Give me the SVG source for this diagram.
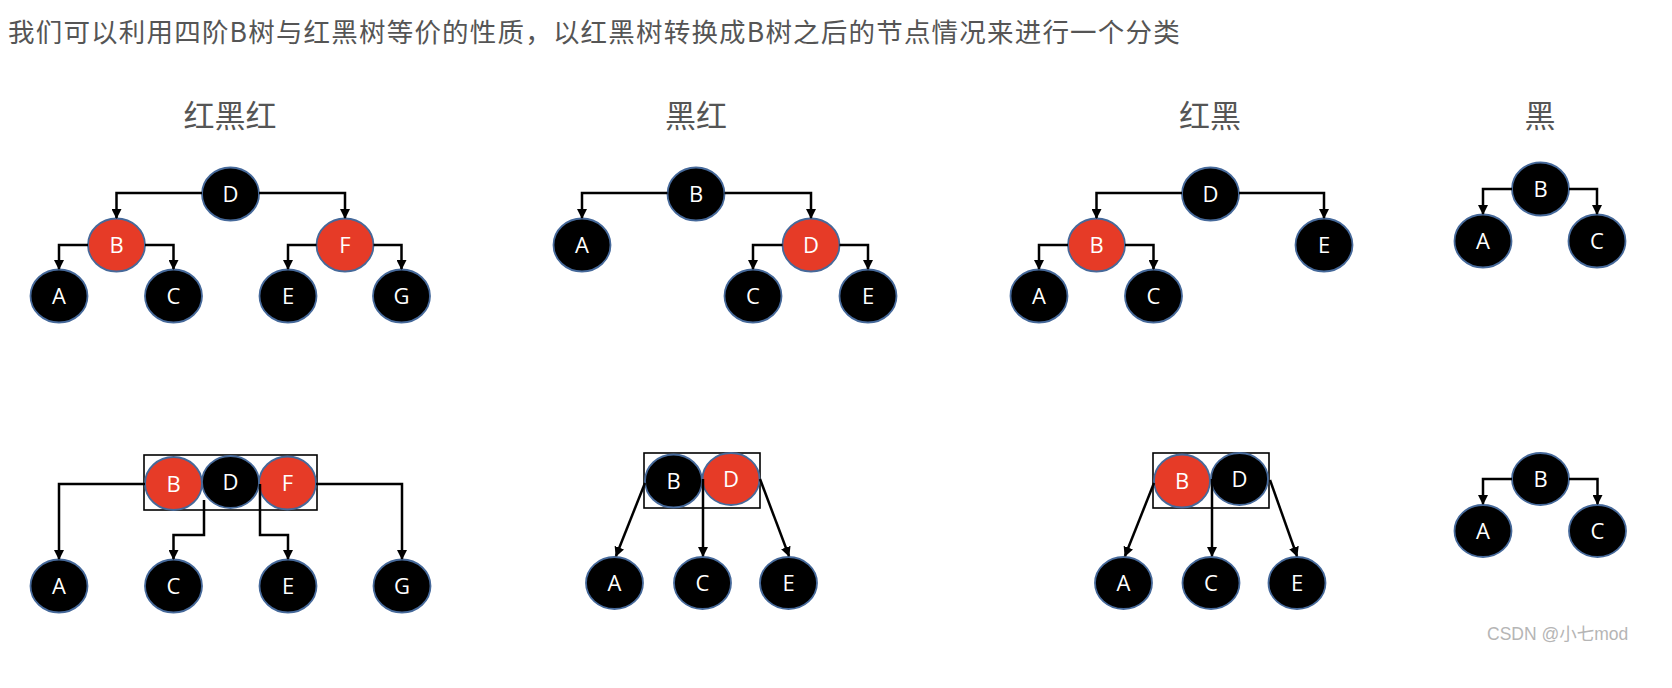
<svg xmlns="http://www.w3.org/2000/svg" width="1672" height="688" viewBox="0 0 1672 688">
<defs>
<marker id="arr" markerUnits="userSpaceOnUse" markerWidth="10" markerHeight="10" refX="9" refY="5" orient="auto">
<path d="M0,0 L10,5 L0,10 z" fill="#000"/>
</marker>
<style>
.bk{fill:#000;stroke:#46699a;stroke-width:1.8}
.rd{fill:#e63b27;stroke:#46699a;stroke-width:1.8}
.lb{font-family:"Open Sans","Noto Sans",sans-serif;font-size:22px;fill:#fff;text-anchor:middle}
.cn{fill:none;stroke:#000;stroke-width:2.5;marker-end:url(#arr)}
.hd{font-family:"Noto Sans CJK SC",sans-serif;fill:#555}
.box{fill:none;stroke:#000;stroke-width:1.6}
</style>
</defs>
<rect width="1672" height="688" fill="#fff"/>
<text class="hd" x="8" y="42" font-size="26.5" letter-spacing="1.2" fill="#4d4d4d">我们可以利用四阶B树与红黑树等价的性质，以红黑树转换成B树之后的节点情况来进行一个分类</text>
<g class="hd" font-size="31" text-anchor="middle">
<text x="230" y="127">红黑红</text>
<text x="696" y="127">黑红</text>
<text x="1210" y="127">红黑</text>
<text x="1540" y="127">黑</text>
</g>

<!-- Top tree 1 -->
<g id="t1-D"><ellipse class="bk" cx="230.5" cy="194" rx="28.5" ry="26.5"/><text class="lb" x="230.5" y="202">D</text></g>
<g id="t1-B"><ellipse class="rd" cx="116.5" cy="245" rx="28.5" ry="26.5"/><text class="lb" x="116.5" y="253">B</text></g>
<g id="t1-F"><ellipse class="rd" cx="345" cy="245" rx="28.5" ry="26.5"/><text class="lb" x="345" y="253">F</text></g>
<g id="t1-A"><ellipse class="bk" cx="59" cy="296" rx="28.5" ry="26.5"/><text class="lb" x="59" y="304">A</text></g>
<g id="t1-C"><ellipse class="bk" cx="173.5" cy="296" rx="28.5" ry="26.5"/><text class="lb" x="173.5" y="304">C</text></g>
<g id="t1-E"><ellipse class="bk" cx="288" cy="296" rx="28.5" ry="26.5"/><text class="lb" x="288" y="304">E</text></g>
<g id="t1-G"><ellipse class="bk" cx="401.5" cy="296" rx="28.5" ry="26.5"/><text class="lb" x="401.5" y="304">G</text></g>

<!-- Top tree 2 -->
<g id="t2-B"><ellipse class="bk" cx="696" cy="194" rx="28.5" ry="26.5"/><text class="lb" x="696" y="202">B</text></g>
<g id="t2-A"><ellipse class="bk" cx="582" cy="245" rx="28.5" ry="26.5"/><text class="lb" x="582" y="253">A</text></g>
<g id="t2-D"><ellipse class="rd" cx="811" cy="245" rx="28.5" ry="26.5"/><text class="lb" x="811" y="253">D</text></g>
<g id="t2-C"><ellipse class="bk" cx="753" cy="296" rx="28.5" ry="26.5"/><text class="lb" x="753" y="304">C</text></g>
<g id="t2-E"><ellipse class="bk" cx="868" cy="296" rx="28.5" ry="26.5"/><text class="lb" x="868" y="304">E</text></g>

<!-- Top tree 3 -->
<g id="t3-D"><ellipse class="bk" cx="1210.5" cy="194" rx="28.5" ry="26.5"/><text class="lb" x="1210.5" y="202">D</text></g>
<g id="t3-B"><ellipse class="rd" cx="1096.5" cy="245" rx="28.5" ry="26.5"/><text class="lb" x="1096.5" y="253">B</text></g>
<g id="t3-E"><ellipse class="bk" cx="1324" cy="245" rx="28.5" ry="26.5"/><text class="lb" x="1324" y="253">E</text></g>
<g id="t3-A"><ellipse class="bk" cx="1039" cy="296" rx="28.5" ry="26.5"/><text class="lb" x="1039" y="304">A</text></g>
<g id="t3-C"><ellipse class="bk" cx="1153.5" cy="296" rx="28.5" ry="26.5"/><text class="lb" x="1153.5" y="304">C</text></g>

<!-- Top tree 4 -->
<g id="t4-B"><ellipse class="bk" cx="1540.5" cy="189" rx="28.5" ry="26.5"/><text class="lb" x="1540.5" y="197">B</text></g>
<g id="t4-A"><ellipse class="bk" cx="1483" cy="241" rx="28.5" ry="26.5"/><text class="lb" x="1483" y="249">A</text></g>
<g id="t4-C"><ellipse class="bk" cx="1597" cy="241" rx="28.5" ry="26.5"/><text class="lb" x="1597" y="249">C</text></g>

<!-- Bottom tree 1 -->
<g id="b1-node">
<rect class="box" x="144" y="455" width="173" height="55"/>
<ellipse class="rd" cx="173.5" cy="483.5" rx="28.5" ry="26.5"/><text class="lb" x="173.5" y="491.5">B</text>
<ellipse class="bk" cx="230.5" cy="482" rx="28.5" ry="26"/><text class="lb" x="230.5" y="490">D</text>
<ellipse class="rd" cx="287.5" cy="483" rx="28.5" ry="26.5"/><text class="lb" x="287.5" y="491">F</text>
</g>
<g id="b1-A"><ellipse class="bk" cx="59" cy="586" rx="28.5" ry="26.5"/><text class="lb" x="59" y="594">A</text></g>
<g id="b1-C"><ellipse class="bk" cx="173.5" cy="586" rx="28.5" ry="26.5"/><text class="lb" x="173.5" y="594">C</text></g>
<g id="b1-E"><ellipse class="bk" cx="288" cy="586" rx="28.5" ry="26.5"/><text class="lb" x="288" y="594">E</text></g>
<g id="b1-G"><ellipse class="bk" cx="402" cy="586" rx="28.5" ry="26.5"/><text class="lb" x="402" y="594">G</text></g>

<!-- Bottom tree 2 -->
<g id="b2-node">
<rect class="box" x="644" y="453" width="116" height="55"/>
<ellipse class="bk" cx="673.5" cy="481" rx="28.5" ry="26.5"/><text class="lb" x="673.5" y="489">B</text>
<ellipse class="rd" cx="731" cy="479" rx="28.5" ry="26"/><text class="lb" x="731" y="487">D</text>
</g>
<g id="b2-A"><ellipse class="bk" cx="614.5" cy="583" rx="28.5" ry="26"/><text class="lb" x="614.5" y="591">A</text></g>
<g id="b2-C"><ellipse class="bk" cx="702.5" cy="583" rx="28.5" ry="26"/><text class="lb" x="702.5" y="591">C</text></g>
<g id="b2-E"><ellipse class="bk" cx="788.5" cy="583" rx="28.5" ry="26"/><text class="lb" x="788.5" y="591">E</text></g>

<!-- Bottom tree 3 -->
<g id="b3-node">
<rect class="box" x="1153" y="453" width="116" height="55"/>
<ellipse class="rd" cx="1182" cy="481" rx="28" ry="26.5"/><text class="lb" x="1182" y="489">B</text>
<ellipse class="bk" cx="1239.5" cy="479" rx="28.5" ry="26"/><text class="lb" x="1239.5" y="487">D</text>
</g>
<g id="b3-A"><ellipse class="bk" cx="1123.5" cy="583" rx="28.5" ry="26"/><text class="lb" x="1123.5" y="591">A</text></g>
<g id="b3-C"><ellipse class="bk" cx="1211" cy="583" rx="28.5" ry="26"/><text class="lb" x="1211" y="591">C</text></g>
<g id="b3-E"><ellipse class="bk" cx="1297" cy="583" rx="28.5" ry="26"/><text class="lb" x="1297" y="591">E</text></g>

<!-- Bottom tree 4 -->
<g id="b4-B"><ellipse class="bk" cx="1540.5" cy="479" rx="28.5" ry="26"/><text class="lb" x="1540.5" y="487">B</text></g>
<g id="b4-A"><ellipse class="bk" cx="1483" cy="531" rx="28.5" ry="26"/><text class="lb" x="1483" y="539">A</text></g>
<g id="b4-C"><ellipse class="bk" cx="1597.5" cy="531" rx="28.5" ry="26"/><text class="lb" x="1597.5" y="539">C</text></g>

<g id="connectors">
<path class="cn" d="M202,193 H116.5 V218"/>
<path class="cn" d="M259,193 H345 V218"/>
<path class="cn" d="M88,245 H59 V269"/>
<path class="cn" d="M145,245 H173.5 V269"/>
<path class="cn" d="M316.5,245 H288 V269"/>
<path class="cn" d="M373.5,245 H401.5 V269"/>

<path class="cn" d="M667.5,193 H582 V218"/>
<path class="cn" d="M724.5,193 H811 V218"/>
<path class="cn" d="M782.5,245 H753 V269"/>
<path class="cn" d="M839.5,245 H868 V269"/>

<path class="cn" d="M1182,193 H1096.5 V218"/>
<path class="cn" d="M1239,193 H1324 V218"/>
<path class="cn" d="M1068,245 H1039 V269"/>
<path class="cn" d="M1125,245 H1153.5 V269"/>

<path class="cn" d="M1512,189 H1483 V214"/>
<path class="cn" d="M1569,189 H1597 V214"/>

<path class="cn" d="M145,484 H59 V559"/>
<path class="cn" d="M316,484 H402 V559"/>
<path class="cn" d="M204,500 V535 H173.5 V559"/>
<path class="cn" d="M260,484 V535 H288 V559"/>

<path class="cn" d="M645,483 L616,556"/>
<path class="cn" d="M703,479 V556"/>
<path class="cn" d="M760,479 L789,556"/>

<path class="cn" d="M1154,483 L1125,556"/>
<path class="cn" d="M1212,479 V556"/>
<path class="cn" d="M1270,480 L1297,556"/>

<path class="cn" d="M1512,479 H1483 V504"/>
<path class="cn" d="M1569,479 H1597.5 V504"/>
</g>

<text x="1487" y="640" font-family="'Liberation Sans','Noto Sans CJK SC',sans-serif" font-size="17.5" fill="#b5b5b5">CSDN @小七mod</text>
</svg>
